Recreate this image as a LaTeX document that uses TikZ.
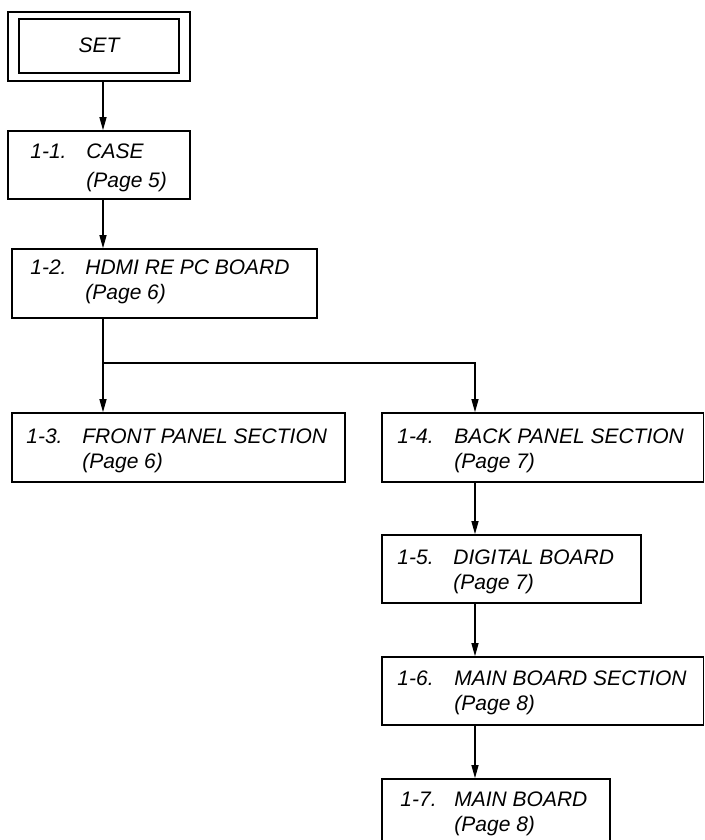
\documentclass[tikz,border=0pt]{standalone}
\usepackage{fontspec}
\setmainfont{Liberation Sans}
\usetikzlibrary{arrows.meta,fit}

\tikzset{
  box/.style={draw, line width=0.8pt, inner sep=0pt},
  lbl/.style={anchor=base west, inner sep=0pt, font=\fontsize{10.5}{12}\selectfont\itshape},
  link/.style={line width=0.6pt, -{Triangle[length=6.5pt,width=3.5pt]}},
  plain/.style={line width=0.6pt}
}

\begin{document}
\begin{tikzpicture}[x=0.5pt,y=-0.5pt]
  \useasboundingbox (0,0) rectangle (705,840);
  \clip (0,0) rectangle (705,840);

  % column lines for the connectors
  \coordinate (colL) at (103,0);
  \coordinate (colR) at (475,0);
  \coordinate (branch) at (103,363);

  % top block with double frame
  \node[box, fit={(8,12) (190,81)}] (set) {};
  \node[box, fit={(19,19) (179,73)}] (setin) {};
  \node[lbl, anchor=base] (settxt) at (99,53) {SET};

  % 1-1
  \node[box, fit={(8,131) (190,199)}] (c11) {};
  \node[lbl] (n11) at (30,158) {1-1.};
  \node[lbl] (t11) at (86,158) {CASE};
  \node[lbl] (p11) at (86,187) {(Page 5)};

  % 1-2
  \node[box, fit={(12,249) (317,318)}] (c12) {};
  \node[lbl] (n12) at (30,274) {1-2.};
  \node[lbl] (t12) at (85,274) {HDMI RE PC BOARD};
  \node[lbl] (p12) at (85,299) {(Page 6)};

  % 1-3
  \node[box, fit={(12,413) (345,482)}] (c13) {};
  \node[lbl] (n13) at (26,443) {1-3.};
  \node[lbl] (t13) at (82,443) {FRONT PANEL SECTION};
  \node[lbl] (p13) at (82,468) {(Page 6)};

  % 1-4
  \node[box, fit={(382,413) (703.5,482)}] (c14) {};
  \node[lbl] (n14) at (397,443) {1-4.};
  \node[lbl] (t14) at (454,443) {BACK PANEL SECTION};
  \node[lbl] (p14) at (454,468) {(Page 7)};

  % 1-5
  \node[box, fit={(382,535) (641,603)}] (c15) {};
  \node[lbl] (n15) at (397,564) {1-5.};
  \node[lbl] (t15) at (453,564) {DIGITAL BOARD};
  \node[lbl] (p15) at (453,589) {(Page 7)};

  % 1-6
  \node[box, fit={(382,657) (703.5,725)}] (c16) {};
  \node[lbl] (n16) at (397,685) {1-6.};
  \node[lbl] (t16) at (454,685) {MAIN BOARD SECTION};
  \node[lbl] (p16) at (454,710) {(Page 8)};

  % 1-7 (runs past the lower edge)
  \node[box, fit={(382,779) (610,848)}] (c17) {};
  \node[lbl] (n17) at (400,806) {1-7.};
  \node[lbl] (t17) at (454,806) {MAIN BOARD};
  \node[lbl] (p17) at (454,831) {(Page 8)};

  % connectors
  \draw[link] (set.south -| colL) -- (c11.north -| colL);
  \draw[link] (c11.south -| colL) -- (c12.north -| colL);
  \draw[link] (c12.south -| colL) -- (c13.north -| colL);
  \draw[link] (branch) -| (c14.north -| colR);
  \draw[link] (c14.south -| colR) -- (c15.north -| colR);
  \draw[link] (c15.south -| colR) -- (c16.north -| colR);
  \draw[link] (c16.south -| colR) -- (c17.north -| colR);
\end{tikzpicture}
\end{document}
